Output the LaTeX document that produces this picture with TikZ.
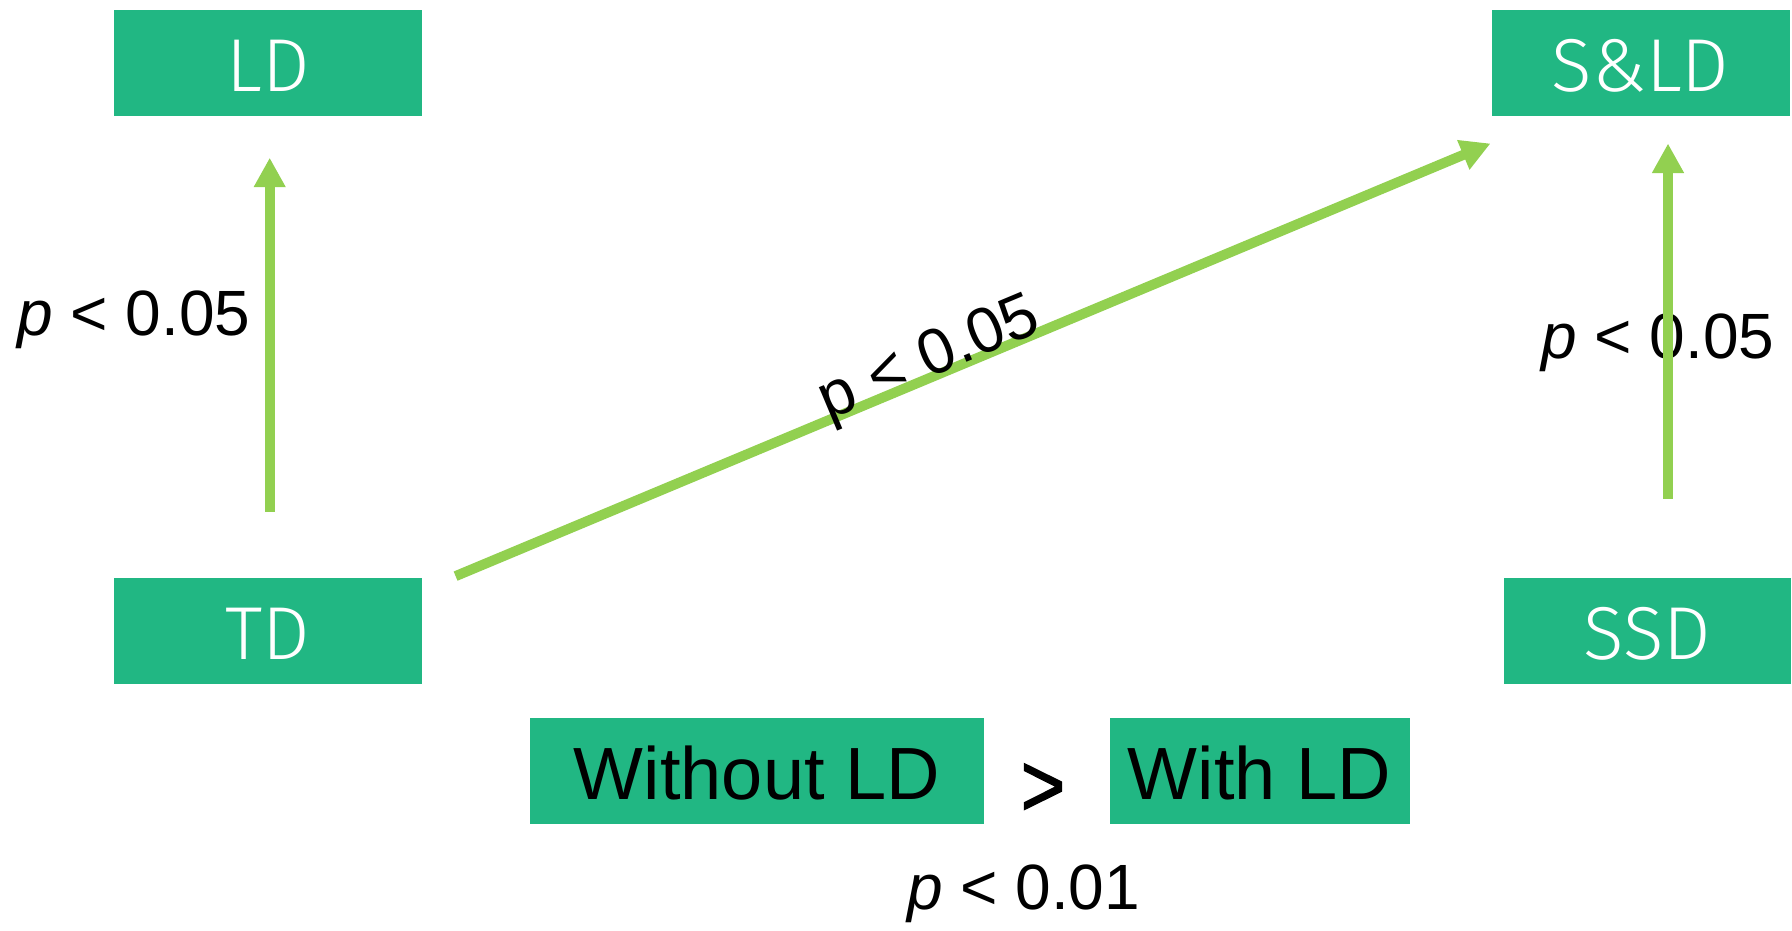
\documentclass[tikz,border=0pt]{standalone}
\usepackage{fontspec}
\setmainfont{Liberation Sans}
\newfontfamily\dinfont{Fira Sans Light}
\newfontfamily\gtfont[FakeBold=1.6]{Liberation Sans}
\usetikzlibrary{arrows.meta,calc}
\definecolor{boxgreen}{HTML}{21B783}
\definecolor{arrowgreen}{HTML}{92D050}
\begin{document}
\begin{tikzpicture}[x=1pt,y=-1pt,
  grpbox/.style={fill=boxgreen, inner sep=0pt, minimum height=105.5pt, text height=58pt, text depth=0pt, anchor=center},
  grplabel/.style={grpbox, text=white, font=\dinfont\fontsize{75}{75}\selectfont},
  cmpbox/.style={grpbox, text=black, font=\fontsize{74}{74}\selectfont},
  pval/.style={font=\fontsize{64}{64}\selectfont, anchor=base, inner sep=0pt, text=black},
  conn/.style={draw=arrowgreen, line width=10pt, -{Triangle[length=29.5pt,width=30pt]}}
]
\useasboundingbox (0,0) rectangle (1792,930);

\node[grplabel, minimum width=308pt] (LD) at (268,62.75) {LD};
\node[grplabel, minimum width=298pt] (sld) at (1640.5,62.75) {S\&LD};
\node[grplabel, minimum width=308pt] (TD) at (268,630.75) {TD};
\node[grplabel, minimum width=287pt] (SSD) at (1647.5,630.75) {SSD};
\node[cmpbox, minimum width=454pt] (without) at (757,770.75) {Without LD};
\node[cmpbox, minimum width=300pt] (with) at (1259.5,770.75) {With LD};
\node[font=\gtfont\fontsize{90}{90}\selectfont, inner sep=0pt, xscale=0.85] (gt) at (1043,790) {>};

\node[pval] (p1) at (134,335) {\textit{p} < 0.05};
\node[pval] (p2) at (1658,358) {\textit{p} < 0.05};
\node[pval] (p3) at (1023.6,909) {\textit{p} < 0.01};

\draw[conn, shorten <=66pt, shorten >=42pt] ([xshift=1.7pt]TD.north) -- ([xshift=1.7pt]LD.south);
\draw[conn, shorten <=79.3pt, shorten >=27.8pt] ([xshift=20.5pt]SSD.north) -- ([xshift=27.5pt]sld.south);
\draw[conn] ($(TD.north east)+(33.4,-1.7)$) -- node[pval, pos=0.464, sloped] (p4) {p < 0.05} ($(sld.south west)+(-0.8,27.8)$);
\end{tikzpicture}
\end{document}
